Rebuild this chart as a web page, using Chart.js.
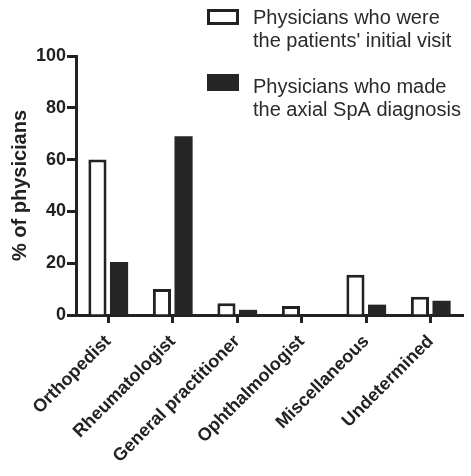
<!DOCTYPE html>
<html>
<head>
<meta charset="utf-8">
<script src="https://cdn.jsdelivr.net/npm/chart.js@4"></script>
<style>
  html, body { margin: 0; padding: 0; background: #fff; }
  #wrap { width: 471px; height: 476px; position: relative; }
</style>
</head>
<body>
<div id="wrap"><canvas id="chart-1" width="471" height="476"></canvas></div>
<script>
var categories = ["Orthopedist", "Rheumatologist", "General practitioner", "Ophthalmologist", "Miscellaneous", "Undetermined"];
var initial_visit = [60, 10, 4.5, 3.5, 15.5, 7];
var made_diagnosis = [20.5, 69, 2, 0, 4, 5.5];
var label_initial = ["Physicians who were", "the patients' initial visit"];
var label_diagnosis = ["Physicians who made", "the axial SpA diagnosis"];
var y_ticks = [0, 20, 40, 60, 80, 100];

var ink = "#222222";
var font_family = "'Liberation Sans', Arial, sans-serif";

// legend drawn by hand, the labels run over two lines
const twoLineLegend = {
    id: "twoLineLegend",
    afterDraw(chart) {
        const ctx = chart.ctx;
        ctx.save();
        ctx.font = "20px " + font_family;
        ctx.textBaseline = "alphabetic";
        const rows = [24, 93];
        chart.data.datasets.forEach(function(ds, i) {
            const y = rows[i];
            if (i == 0) {
                ctx.lineWidth = 3;
                ctx.strokeStyle = ink;
                ctx.fillStyle = "#ffffff";
                ctx.fillRect(208.5, 10.5, 29, 13);
                ctx.strokeRect(208.5, 10.5, 29, 13);
            } else {
                ctx.fillStyle = ds.backgroundColor;
                ctx.fillRect(207, 74, 32, 17);
            }
            ctx.fillStyle = "#2a2a2a";
            ds.label.forEach(function(line, k) {
                ctx.fillText(line, 253, y + k * 23);
            });
        });
        ctx.restore();
    }
};

const ctx = document.getElementById("chart-1").getContext("2d");
const myChart = new Chart(ctx, {
    type: "bar",
    data: {
        labels: categories,
        datasets: [{
            label: label_initial,
            data: initial_visit,
            backgroundColor: "#ffffff",
            borderColor: ink,
            borderWidth: 3,
            borderSkipped: "bottom",
            categoryPercentage: 0.67,
            barPercentage: 0.84,
        }, {
            label: label_diagnosis,
            data: made_diagnosis,
            backgroundColor: "#262626",
            borderColor: "#262626",
            borderWidth: 0,
            categoryPercentage: 0.67,
            barPercentage: 0.84,
        }],
    },
    options: {
        responsive: false,
        animation: false,
        layout: {
            padding: { top: 56, right: 8, left: 0, bottom: 0 },
        },
        plugins: {
            legend: { display: false },
            tooltip: { enabled: false },
        },
        scales: {
            x: {
                afterFit: function(s) { s.height = 161; },
                border: { display: true, color: ink, width: 3 },
                grid: {
                    offset: false,
                    drawOnChartArea: false,
                    drawTicks: true,
                    tickLength: 8,
                    tickWidth: 3,
                    tickColor: ink,
                },
                ticks: {
                    autoSkip: false,
                    maxRotation: 45,
                    minRotation: 45,
                    padding: 8,
                    color: ink,
                    font: { family: font_family, size: 18, weight: "bold" },
                },
            },
            y: {
                min: 0,
                max: 100,
                afterFit: function(s) { s.width = 76; },
                afterBuildTicks: function(s) {
                    s.ticks = y_ticks.map(function(v) { return { value: v }; });
                },
                border: { display: true, color: ink, width: 3 },
                grid: {
                    drawOnChartArea: false,
                    drawTicks: true,
                    tickLength: 9,
                    tickWidth: 3,
                    tickColor: ink,
                },
                ticks: {
                    padding: 1,
                    color: ink,
                    font: { family: font_family, size: 18, weight: "bold" },
                },
                title: {
                    display: true,
                    text: "% of physicians",
                    color: ink,
                    padding: { top: 8, bottom: 0 },
                    font: { family: font_family, size: 20, weight: "bold" },
                },
            },
        },
    },
    plugins: [twoLineLegend],
});
</script>
</body>
</html>
